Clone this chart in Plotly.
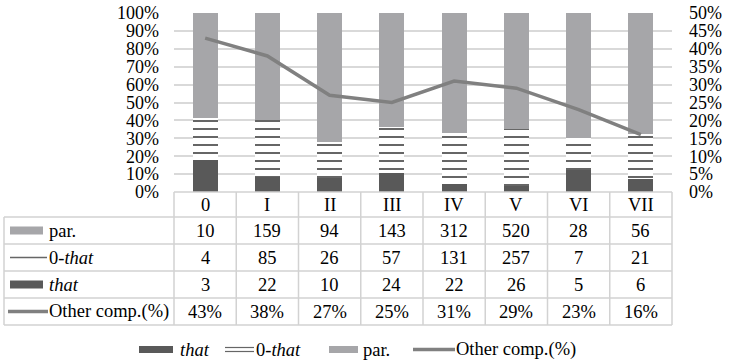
import plotly.graph_objects as go

# ---- data ----
categories = ["0", "I", "II", "III", "IV", "V", "VI", "VII"]
par = [10, 159, 94, 143, 312, 520, 28, 56]
zero_that = [4, 85, 26, 57, 131, 257, 7, 21]
that = [3, 22, 10, 24, 22, 26, 5, 6]
other_comp = [43, 38, 27, 25, 31, 29, 23, 16]
left_ticks = list(range(0, 101, 10))
right_ticks = list(range(0, 51, 5))

W, H = 729, 364
FONT = "Liberation Serif"
FS = 18.5
C_THAT = "#595959"
C_PAR = "#a6a6a9"
C_LINE = "#808080"
C_GRID = "#d9d9d9"
C_TBL = "#d2d2d2"


def px(x):
    return x / W


def py(y):
    return 1 - y / H


# layout geometry (pixels)
PL, PR, PT, PB = 174, 672, 13, 192
ROWS = [192, 217, 244, 271, 298, 325]
TL = 4

fig = go.Figure()
fig.add_trace(go.Bar(x=categories, y=that, name="that", marker=dict(color=C_THAT, line=dict(width=0)),
                     width=0.4, showlegend=False))
fig.add_trace(go.Bar(x=categories, y=zero_that, name="0-that",
                     marker=dict(color="white", line=dict(width=0),
                                 pattern=dict(shape="-", size=8, solidity=0.25, fgcolor="#666666",
                                              bgcolor="white", fillmode="replace")),
                     width=0.4, showlegend=False))
fig.add_trace(go.Bar(x=categories, y=par, name="par.", marker=dict(color=C_PAR, line=dict(width=0)),
                     width=0.4, showlegend=False))
fig.add_trace(go.Scatter(x=categories, y=other_comp, name="Other comp.(%)", yaxis="y2", mode="lines",
                         line=dict(color=C_LINE, width=3.5), showlegend=False))

shapes = []
annotations = []

# table grid
for i, yy in enumerate(ROWS):
    x0 = PL if i == 0 else TL
    shapes.append(dict(type="line", xref="paper", yref="paper", x0=px(x0), x1=px(PR), y0=py(yy), y1=py(yy),
                       line=dict(color=C_TBL, width=1.5), layer="above"))
shapes.append(dict(type="line", xref="paper", yref="paper", x0=px(TL), x1=px(TL), y0=py(ROWS[1]), y1=py(ROWS[-1]),
                   line=dict(color=C_TBL, width=1.5)))
ncat = len(categories)
for k in range(ncat + 1):
    xx = PL + (PR - PL) * k / ncat
    shapes.append(dict(type="line", xref="paper", yref="paper", x0=px(xx), x1=px(xx), y0=py(ROWS[0]), y1=py(ROWS[-1]),
                       line=dict(color=C_TBL, width=1.5)))

tfont = dict(family=FONT, size=FS, color="#000000")
axfont = dict(family=FONT, size=18, color="#000000")


def row_c(i):
    return py((ROWS[i] + ROWS[i + 1]) / 2)


# header and cells
rows_vals = [par, zero_that, that, [f"{v}%" for v in other_comp]]
for j, c in enumerate(categories):
    annotations.append(dict(x=c, xref="x", y=row_c(0), yref="paper", text=c, showarrow=False, font=tfont,
                            xanchor="center", yanchor="middle"))
    for r, vals in enumerate(rows_vals):
        annotations.append(dict(x=c, xref="x", y=row_c(r + 1), yref="paper", text=str(vals[j]), showarrow=False,
                                font=tfont, xanchor="center", yanchor="middle"))

# row labels with symbols
row_labels = ["par.", "0-<i>that</i>", "<i>that</i>", "Other comp.(%)"]
for r, lab in enumerate(row_labels):
    annotations.append(dict(x=px(47), xref="paper", y=row_c(r + 1), yref="paper", text=lab, showarrow=False,
                            font=tfont, xanchor="left", yanchor="middle"))
yc = [(ROWS[i] + ROWS[i + 1]) / 2 for i in range(1, 5)]
shapes.append(dict(type="rect", xref="paper", yref="paper", x0=px(10), x1=px(43), y0=py(yc[0] - 4), y1=py(yc[0] + 4),
                   fillcolor=C_PAR, line=dict(width=0)))
shapes.append(dict(type="line", xref="paper", yref="paper", x0=px(10), x1=px(47), y0=py(yc[1]), y1=py(yc[1]),
                   line=dict(color="#666666", width=1.5)))
shapes.append(dict(type="rect", xref="paper", yref="paper", x0=px(10), x1=px(43), y0=py(yc[2] - 4), y1=py(yc[2] + 4),
                   fillcolor=C_THAT, line=dict(width=0)))
shapes.append(dict(type="line", xref="paper", yref="paper", x0=px(8), x1=px(48), y0=py(yc[3]), y1=py(yc[3]),
                   line=dict(color=C_LINE, width=3.5)))

# bottom legend
LY = 349.5
shapes.append(dict(type="rect", xref="paper", yref="paper", x0=px(139), x1=px(173), y0=py(LY - 3.5), y1=py(LY + 3.5),
                   fillcolor=C_THAT, line=dict(width=0)))
annotations.append(dict(x=px(178), xref="paper", y=py(LY), yref="paper", text="<i>that</i>", showarrow=False,
                        font=tfont, xanchor="left", yanchor="middle"))
for dy in (-2, 2):
    shapes.append(dict(type="line", xref="paper", yref="paper", x0=px(225), x1=px(254), y0=py(LY + dy), y1=py(LY + dy),
                       line=dict(color="#666666", width=1.2)))
annotations.append(dict(x=px(254), xref="paper", y=py(LY), yref="paper", text="0-<i>that</i>", showarrow=False,
                        font=tfont, xanchor="left", yanchor="middle"))
shapes.append(dict(type="rect", xref="paper", yref="paper", x0=px(329), x1=px(358), y0=py(LY - 3.5), y1=py(LY + 3.5),
                   fillcolor=C_PAR, line=dict(width=0)))
annotations.append(dict(x=px(361), xref="paper", y=py(LY), yref="paper", text="par.", showarrow=False,
                        font=tfont, xanchor="left", yanchor="middle"))
shapes.append(dict(type="line", xref="paper", yref="paper", x0=px(413), x1=px(455), y0=py(LY), y1=py(LY),
                   line=dict(color=C_LINE, width=3.5)))
annotations.append(dict(x=px(454), xref="paper", y=py(LY), yref="paper", text="Other comp.(%)", showarrow=False,
                        font=tfont, xanchor="left", yanchor="middle"))

fig.update_layout(
    width=W, height=H, autosize=False,
    margin=dict(l=0, r=0, t=0, b=0, autoexpand=False),
    paper_bgcolor="white", plot_bgcolor="white",
    barmode="stack", barnorm="percent", bargap=0.6,
    showlegend=False,
    font=dict(family=FONT, size=FS, color="#000000"),
    xaxis=dict(domain=[px(PL), px(PR)], range=[-0.5, ncat - 0.5], showticklabels=False, ticks="",
               showgrid=False, zeroline=False, showline=False, type="category", automargin=False),
    yaxis=dict(domain=[py(PB), py(PT)], range=[0, 100], tickvals=left_ticks,
               ticktext=[f"{v}%" for v in left_ticks], showgrid=True, gridcolor=C_GRID, gridwidth=1.5,
               zeroline=False, showline=False, ticks="", ticklabelstandoff=14, tickfont=axfont,
               automargin=False),
    yaxis2=dict(domain=[py(PB), py(PT)], range=[0, 50], overlaying="y", side="right", tickvals=right_ticks,
                ticktext=[f"{v}%" for v in right_ticks], showgrid=False, zeroline=False, showline=False,
                ticks="", ticklabelstandoff=16, tickfont=axfont, automargin=False),
    shapes=shapes,
    annotations=annotations,
)

fig.write_html("out.html", config={"displayModeBar": False},
               post_script="document.body.style.margin='0';document.body.style.overflow='hidden';")
